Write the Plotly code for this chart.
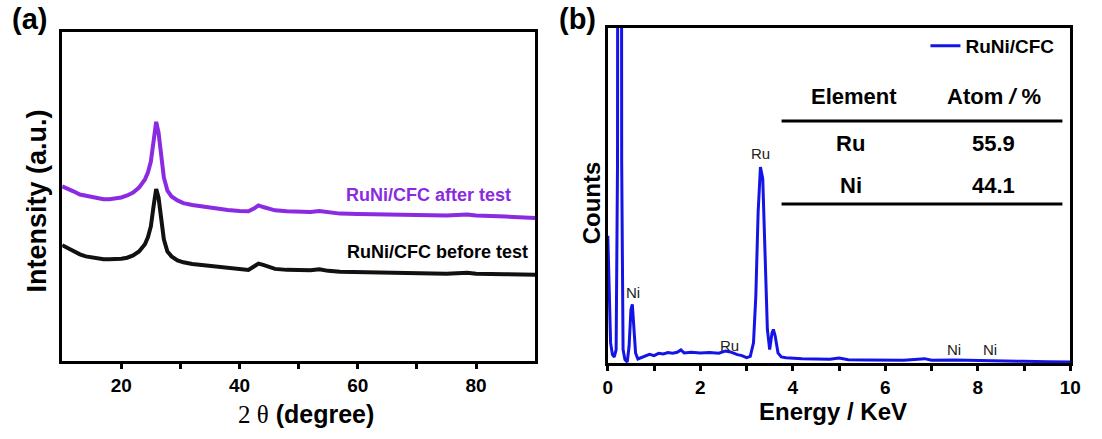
import plotly.graph_objects as go

# ---------------- Panel (a): XRD ----------------
theta = [10, 11, 12, 13, 14, 15, 16, 17, 18, 19, 20, 21, 22, 23, 24, 24.5, 25, 25.5,
         25.9, 26.3, 26.7, 27.2, 27.8, 28.5, 29.5, 30.5, 32, 34, 36, 38, 40, 41.5, 42.5,
         43.2, 44, 45, 46, 48, 50, 52, 53.5, 55, 57, 60, 65, 70, 75, 78.5, 80, 85, 90]
after_test = [53.1, 52.4, 51.5, 50.6, 50.3, 49.7, 49.4, 49.2, 49.2, 49.4, 49.7, 50.3, 51.2,
              52.7, 55.2, 57.3, 60.6, 67.3, 72.7, 69.4, 62.7, 55.8, 51.8, 50.0, 48.8, 48.0,
              47.4, 46.8, 46.4, 45.9, 45.6, 45.5, 46.4, 47.3, 46.8, 46.2, 45.8, 45.5, 45.3,
              45.3, 45.6, 45.2, 44.8, 44.7, 44.5, 44.4, 44.2, 44.5, 44.2, 43.9, 43.5]
before_test = [35.2, 34.2, 33.2, 32.4, 31.8, 31.4, 31.1, 30.9, 30.9, 30.9, 31.1, 31.4, 32.1,
               33.3, 35.5, 37.6, 40.9, 47.6, 52.3, 49.7, 43.0, 37.0, 33.3, 31.8, 30.6, 30.0,
               29.5, 29.1, 28.6, 28.2, 27.9, 27.7, 28.8, 29.6, 29.2, 28.5, 28.0, 27.7, 27.6,
               27.6, 27.9, 27.4, 27.1, 27.0, 26.8, 26.7, 26.5, 26.8, 26.5, 26.4, 26.2]
a_tickvals = [20, 30, 40, 50, 60, 70, 80]
a_ticktext = ["20", "", "40", "", "60", "", "80"]

# ---------------- Panel (b): EDS ----------------
energy = [0.00, 0.03, 0.06, 0.10, 0.14, 0.18, 0.21, 0.22, 0.29, 0.30, 0.33, 0.37, 0.42,
          0.46, 0.50, 0.53, 0.56, 0.60, 0.65, 0.70, 0.80, 0.90, 1.00, 1.10, 1.20, 1.30,
          1.40, 1.50, 1.58, 1.65, 1.80, 2.00, 2.20, 2.40, 2.55, 2.65, 2.80, 2.90, 3.00,
          3.08, 3.15, 3.20, 3.25, 3.30, 3.35, 3.40, 3.45, 3.50, 3.55, 3.58, 3.62, 3.68,
          3.75, 3.85, 4.00, 4.20, 4.50, 4.80, 5.00, 5.20, 5.60, 6.00, 6.40, 6.85, 7.00,
          7.50, 8.00, 8.50, 9.00, 9.50, 10.0]
counts = [38, 20, 6, 2.5, 1.8, 4, 60, 250, 250, 60, 4, 1, 0.3,
          5, 16, 17.5, 12, 3, 1.2, 1.5, 2.2, 2.6, 2.2, 2.9, 2.7, 3.1,
          2.9, 3.2, 3.9, 3.0, 3.2, 3.0, 3.1, 2.9, 3.6, 3.3, 2.5, 2.2, 1.6,
          2.0, 6, 20, 45, 58.5, 55, 32, 10, 4, 9, 10, 8, 3,
          1.8, 1.6, 1.4, 1.3, 1.2, 1.1, 1.5, 1.0, 0.9, 0.9, 0.8, 1.3, 0.8,
          0.9, 0.7, 0.7, 0.5, 0.4, 0.3]
b_tickvals = [0, 1, 2, 3, 4, 5, 6, 7, 8, 9, 10]
b_ticktext = ["0", "", "2", "", "4", "", "6", "", "8", "", "10"]

peak_labels = ["Ru", "Ni", "Ru", "Ni", "Ni"]
peak_x = [3.31, 0.54, 2.63, 7.49, 8.27]
peak_y = [62.5, 21, 5.1, 3.9, 3.9]

table_header = ["Element", "Atom <i>/</i> %"]
table_elements = ["Ru", "Ni"]
table_atom = ["55.9", "44.1"]

FONT = "Liberation Sans, Arial, sans-serif"
W, H = 1102, 439
PURPLE = "#8a2be2"
BLUE = "#1414e6"


def px(x):
    return x / W


def py(y):
    return (H - y) / H


fig = go.Figure()
fig.add_trace(go.Scatter(x=theta, y=after_test, mode="lines", xaxis="x", yaxis="y",
                         line=dict(color=PURPLE, width=4), showlegend=False))
fig.add_trace(go.Scatter(x=theta, y=before_test, mode="lines", xaxis="x", yaxis="y",
                         line=dict(color="#111111", width=4), showlegend=False))
fig.add_trace(go.Scatter(x=energy, y=counts, mode="lines", xaxis="x2", yaxis="y2",
                         name="RuNi/CFC", line=dict(color=BLUE, width=3), showlegend=True))

axis_common = dict(showline=True, linewidth=3, linecolor="black", mirror=True,
                   showgrid=False, zeroline=False)

fig.update_layout(
    width=W, height=H,
    margin=dict(l=0, r=0, t=0, b=0),
    paper_bgcolor="white", plot_bgcolor="white",
    font=dict(family=FONT, color="black"),
    xaxis=dict(domain=[px(58), px(538)], range=[10, 90], anchor="y",
               tickvals=a_tickvals, ticktext=a_ticktext, ticks="outside", ticklen=5,
               tickwidth=2.5, tickcolor="black",
               tickfont=dict(size=19, family=FONT, weight="bold"), **axis_common),
    yaxis=dict(domain=[py(361), py(32)], range=[0, 100], anchor="x",
               showticklabels=False, ticks="", **axis_common),
    xaxis2=dict(domain=[px(611.7), px(1081)], range=[0, 10], anchor="y2",
                tickvals=b_tickvals, ticktext=b_ticktext, ticks="outside", ticklen=5,
                tickwidth=2.5, tickcolor="black",
                tickfont=dict(size=19, family=FONT, weight="bold"), **axis_common),
    yaxis2=dict(domain=[py(363), py(28)], range=[0, 100], anchor="x2",
                showticklabels=False, ticks="", **axis_common),
    legend=dict(x=px(934), y=py(46), xanchor="left", yanchor="middle",
                bgcolor="rgba(0,0,0,0)", borderwidth=0, itemwidth=30,
                font=dict(size=19, family=FONT, weight="bold")),
)

ann = []
# panel labels
ann.append(dict(text="<b>(a)</b>", x=px(5), y=py(19), xref="paper", yref="paper",
                xanchor="left", yanchor="middle", showarrow=False,
                font=dict(size=29, family=FONT)))
ann.append(dict(text="<b>(b)</b>", x=px(560), y=py(19), xref="paper", yref="paper",
                xanchor="left", yanchor="middle", showarrow=False,
                font=dict(size=29, family=FONT)))
# axis titles
ann.append(dict(text="<b>Intensity (a.u.)</b>", x=px(32), y=py(201), xref="paper", yref="paper",
                xanchor="center", yanchor="middle", textangle=-90, showarrow=False,
                font=dict(size=27, family=FONT)))
ann.append(dict(text='<span style="font-family:Liberation Serif;font-weight:normal">2 θ</span> <b>(degree)</b>',
                x=px(305), y=py(414), xref="paper", yref="paper",
                xanchor="center", yanchor="middle", showarrow=False,
                font=dict(size=25, family=FONT)))
ann.append(dict(text="<b>Counts</b>", x=px(595), y=py(203), xref="paper", yref="paper",
                xanchor="center", yanchor="middle", textangle=-90, showarrow=False,
                font=dict(size=24, family=FONT)))
ann.append(dict(text="<b>Energy / KeV</b>", x=px(840), y=py(411), xref="paper", yref="paper",
                xanchor="center", yanchor="middle", showarrow=False,
                font=dict(size=24, family=FONT)))
# curve labels panel (a)
ann.append(dict(text="<b>RuNi/CFC after test</b>", x=86.3, y=50.5, xref="x", yref="y",
                xanchor="right", yanchor="middle", showarrow=False,
                font=dict(size=18, family=FONT, color=PURPLE)))
ann.append(dict(text="<b>RuNi/CFC before test</b>", x=89.1, y=33.0, xref="x", yref="y",
                xanchor="right", yanchor="middle", showarrow=False,
                font=dict(size=18, family=FONT, color="black")))
# peak labels panel (b)
for t, xx, yy in zip(peak_labels, peak_x, peak_y):
    ann.append(dict(text=t, x=xx, y=yy, xref="x2", yref="y2", xanchor="center",
                    yanchor="middle", showarrow=False,
                    font=dict(size=15, family=FONT, color="#222222")))
# table
ann.append(dict(text="<b>" + table_header[0] + "</b>", x=px(862), y=py(96), xref="paper",
                yref="paper", xanchor="center", yanchor="middle", showarrow=False,
                font=dict(size=22, family=FONT)))
ann.append(dict(text="<b>" + table_header[1] + "</b>", x=px(1004), y=py(96), xref="paper",
                yref="paper", xanchor="center", yanchor="middle", showarrow=False,
                font=dict(size=22, family=FONT)))
row_y = [143, 185]
for el, at, ry in zip(table_elements, table_atom, row_y):
    ann.append(dict(text="<b>" + el + "</b>", x=px(858), y=py(ry), xref="paper", yref="paper",
                    xanchor="center", yanchor="middle", showarrow=False,
                    font=dict(size=22, family=FONT)))
    ann.append(dict(text="<b>" + at + "</b>", x=px(1003), y=py(ry), xref="paper", yref="paper",
                    xanchor="center", yanchor="middle", showarrow=False,
                    font=dict(size=22, family=FONT)))
fig.update_layout(annotations=ann)

shapes = []
for ly in [121, 204]:
    shapes.append(dict(type="line", xref="paper", yref="paper", x0=px(788), x1=px(1073),
                       y0=py(ly), y1=py(ly), line=dict(color="black", width=3)))
fig.update_layout(shapes=shapes)

fig.write_html("out.html")
